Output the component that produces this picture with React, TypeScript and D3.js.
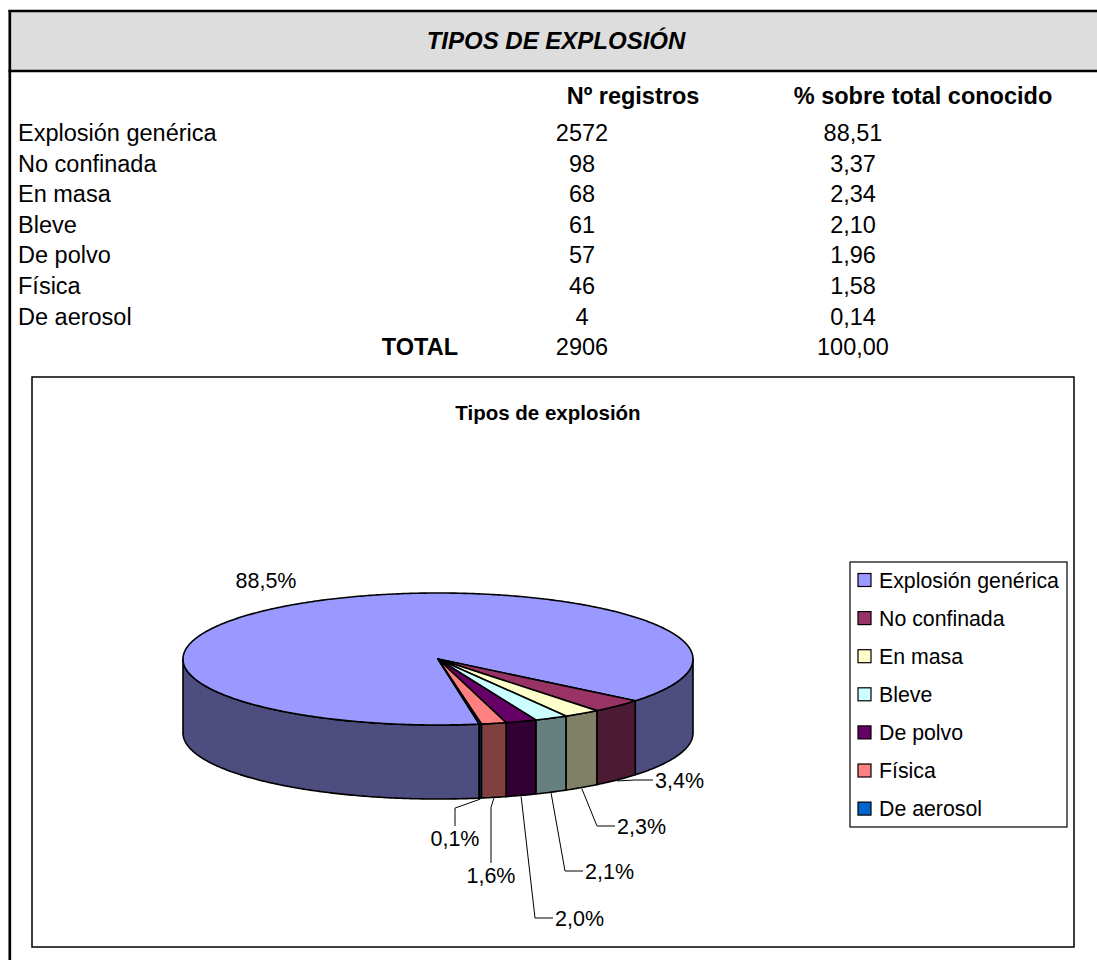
import React from "react";
import * as d3 from "d3";

const categories = ["Explosión genérica", "No confinada", "En masa", "Bleve", "De polvo", "Física", "De aerosol"];
const counts = [2572, 98, 68, 61, 57, 46, 4];
const percents = ["88,51", "3,37", "2,34", "2,10", "1,96", "1,58", "0,14"];
const totalCount = "2906";
const totalPercent = "100,00";
const pieLabels = ["88,5%", "3,4%", "2,3%", "2,1%", "2,0%", "1,6%", "0,1%"];
const topColors = ["#9999FF", "#993366", "#FFFFCC", "#CCFFFF", "#660066", "#FF8080", "#0066CC"];
const sideColors = ["#4D4D80", "#4D1A33", "#808066", "#668080", "#330033", "#804040", "#003366"];

// layout (not data)
const labelLayout: { x: number; y: number; kind: "none" | "side" | "top" }[] = [
  { x: 266, y: 580, kind: "none" },
  { x: 655, y: 780, kind: "side" },
  { x: 617, y: 826, kind: "side" },
  { x: 585, y: 871, kind: "side" },
  { x: 555, y: 918, kind: "side" },
  { x: 491, y: 875, kind: "top" },
  { x: 455, y: 838, kind: "top" },
];

const FONT = "'Liberation Sans', Arial, sans-serif";
const W = 1097;
const H = 960;

const cx = 438, cy = 659, rx = 255, ry = 66, depth = 74;
const startDeg = 170.7;

function P(t: number, z: number): [number, number] {
  return [cx + rx * Math.sin(t), cy - ry * Math.cos(t) + z];
}

function sample(a: number, b: number, z: number): [number, number][] {
  const n = Math.max(2, Math.ceil(Math.abs(b - a) / 0.01));
  const pts: [number, number][] = [];
  for (let i = 0; i <= n; i++) pts.push(P(a + ((b - a) * i) / n, z));
  return pts;
}

export default function App() {
  const line = d3.line<[number, number]>();
  const sa = (startDeg * Math.PI) / 180;
  const arcs = d3.pie<number>().sort(null).startAngle(sa).endAngle(sa + 2 * Math.PI)(counts);

  const sides: { d: string; color: string }[] = [];
  arcs.forEach((a, i) => {
    for (let k = -1; k <= 2; k++) {
      const lo = Math.PI / 2 + k * 2 * Math.PI;
      const hi = (3 * Math.PI) / 2 + k * 2 * Math.PI;
      const s = Math.max(lo, a.startAngle);
      const e = Math.min(hi, a.endAngle);
      if (e > s) {
        const pts = [...sample(s, e, 0), ...sample(e, s, depth)];
        sides.push({ d: line(pts)! + "Z", color: sideColors[i] });
      }
    }
  });

  const tops = arcs.map((a, i) => {
    const pts: [number, number][] = [[cx, cy], ...sample(a.startAngle, a.endAngle, 0)];
    return { d: line(pts)! + "Z", color: topColors[i] };
  });

  const leaders = arcs.map((a, i) => {
    const L = labelLayout[i];
    if (L.kind === "none") return null;
    const mid = (a.startAngle + a.endAngle) / 2;
    const anc = P(mid, depth + 1);
    let pts: [number, number][];
    if (L.kind === "side") {
      pts = [anc, [Math.max(anc[0], L.x - 20), L.y], [L.x - 2, L.y]];
    } else {
      pts = [anc, [L.x, anc[1] + 9], [L.x, L.y - 12]];
    }
    return line(pts);
  });

  const rowY = (i: number) => 141 + 30.6 * i;
  const tableFont = 23.5;

  return (
    <svg
      width={W}
      height={H}
      style={{ position: "absolute", left: 0, top: 0, background: "#fff" }}
      fontFamily={FONT}
    >
      <rect x={0} y={0} width={W} height={H} fill="#fff" />
      {/* header band */}
      <rect x={10} y={11} width={W} height={60} fill="#DDDDDD" />
      <line x1={8.5} x2={W} y1={11} y2={11} stroke="#000" strokeWidth={2.7} />
      <line x1={8.5} x2={W} y1={71} y2={71} stroke="#000" strokeWidth={2.7} />
      <line x1={9.8} x2={9.8} y1={10} y2={H} stroke="#000" strokeWidth={2.7} />
      <text x={556} y={49} textAnchor="middle" fontSize={24} fontWeight="bold" fontStyle="italic">
        TIPOS DE EXPLOSIÓN
      </text>

      {/* table */}
      <text x={633} y={104} textAnchor="middle" fontSize={tableFont} fontWeight="bold">Nº registros</text>
      <text x={923} y={104} textAnchor="middle" fontSize={tableFont} fontWeight="bold">% sobre total conocido</text>
      {categories.map((c, i) => (
        <g key={c}>
          <text x={18} y={rowY(i)} fontSize={tableFont}>{c}</text>
          <text x={582} y={rowY(i)} textAnchor="middle" fontSize={tableFont}>{counts[i]}</text>
          <text x={853} y={rowY(i)} textAnchor="middle" fontSize={tableFont}>{percents[i]}</text>
        </g>
      ))}
      <text x={458} y={rowY(7)} textAnchor="end" fontSize={tableFont} fontWeight="bold">TOTAL</text>
      <text x={582} y={rowY(7)} textAnchor="middle" fontSize={tableFont}>{totalCount}</text>
      <text x={853} y={rowY(7)} textAnchor="middle" fontSize={tableFont}>{totalPercent}</text>

      {/* chart area */}
      <rect x={32} y={377} width={1042} height={570} fill="#fff" stroke="#000" strokeWidth={1.5} />
      <text x={548} y={420} textAnchor="middle" fontSize={20.5} fontWeight="bold">Tipos de explosión</text>

      {sides.map((s, i) => (
        <path key={"s" + i} d={s.d} fill={s.color} stroke="#000" strokeWidth={1.6} strokeLinejoin="round" />
      ))}
      {tops.map((t, i) => (
        <path key={"t" + i} d={t.d} fill={t.color} stroke="#000" strokeWidth={1.6} strokeLinejoin="round" />
      ))}

      {leaders.map((d, i) => (d ? <path key={"l" + i} d={d} fill="none" stroke="#000" strokeWidth={1} /> : null))}
      {pieLabels.map((t, i) => {
        const L = labelLayout[i];
        return (
          <text
            key={"pl" + i}
            x={L.x}
            y={L.y}
            dy="0.36em"
            textAnchor={L.kind === "side" ? "start" : "middle"}
            fontSize={21.5}
          >
            {t}
          </text>
        );
      })}

      {/* legend */}
      <rect x={850} y={562} width={217} height={265} fill="#fff" stroke="#000" strokeWidth={1.2} />
      {categories.map((c, i) => {
        const y = 580 + 38.1 * i;
        return (
          <g key={"lg" + i}>
            <rect x={858} y={y - 6.5} width={13} height={13} fill={topColors[i]} stroke="#000" strokeWidth={1.2} />
            <text x={879} y={y} dy="0.36em" fontSize={21.3}>{c}</text>
          </g>
        );
      })}
    </svg>
  );
}
